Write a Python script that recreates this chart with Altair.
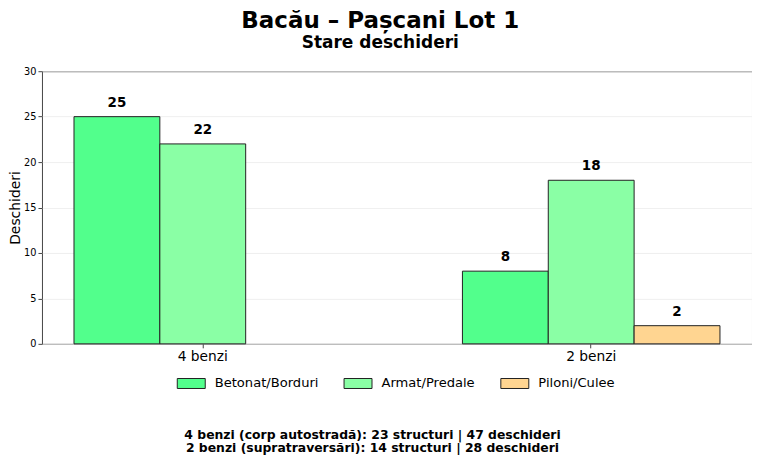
import altair as alt
import pandas as pd

title_text = "Bacău – Pașcani Lot 1"
subtitle_text = "Stare deschideri"
categories = ["4 benzi", "2 benzi"]
series = ["Betonat/Borduri", "Armat/Predale", "Piloni/Culee"]
colors = ["#52FF8C", "#8AFFA5", "#FFD591"]
values_4_benzi = [25, 22, None]
values_2_benzi = [8, 18, 2]
y_ticks = [0, 5, 10, 15, 20, 25, 30]
footer_lines = [
    "4 benzi (corp autostradă): 23 structuri | 47 deschideri",
    "2 benzi (supratraversări): 14 structuri | 28 deschideri",
]

rows = []
for cat, vals in zip(categories, [values_4_benzi, values_2_benzi]):
    for s, v in zip(series, vals):
        if v is not None:
            rows.append({"cat": cat, "serie": s, "val": v})
df = pd.DataFrame(rows)

FONT = "DejaVu Sans"

x_enc = alt.X("cat:N", sort=categories,
              scale=alt.Scale(paddingInner=0.337, paddingOuter=0.0825),
              axis=alt.Axis(title=None, labelAngle=0, labelFontSize=13.8,
                            labelColor="#000", tickColor="#444", tickSize=4,
                            domain=False, labelPadding=2))
xo_enc = alt.XOffset("serie:N", sort=series,
                     scale=alt.Scale(domain=series, paddingInner=0, paddingOuter=0))
y_enc = alt.Y("val:Q",
              scale=alt.Scale(domain=[0, 30], nice=False),
              axis=alt.Axis(title="Deschideri", values=y_ticks, titleFontSize=13.9,
                            titleFontWeight="normal", titleColor="#000",
                            labelFontSize=9.8, labelColor="#000", tickColor="#444",
                            tickSize=4, domain=False, gridColor="#ebebeb",
                            gridWidth=0.8, titlePadding=1, labelPadding=2))

bars = alt.Chart(df).mark_bar(stroke="#222", strokeWidth=1, opacity=1).encode(
    x=x_enc,
    xOffset=xo_enc,
    y=y_enc,
    color=alt.Color("serie:N", sort=series,
                    scale=alt.Scale(domain=series, range=colors),
                    legend=alt.Legend(
                        title=None, orient="none", direction="horizontal",
                        legendX=135, legendY=298,
                        symbolType="M-1,-0.357H1V0.357H-1Z", symbolSize=784,
                        symbolStrokeColor="#222", symbolStrokeWidth=1,
                        symbolOpacity=1,
                        labelFontSize=13.1, labelColor="#000", labelOffset=9,
                        columnPadding=23, labelFont=FONT)),
)

labels = alt.Chart(df).mark_text(dy=-7, baseline="bottom", fontSize=13.5,
                                 fontWeight="bold", color="#000").encode(
    x=alt.X("cat:N", sort=categories),
    xOffset=alt.XOffset("serie:N", sort=series),
    y=alt.Y("val:Q"),
    text=alt.Text("val:Q"),
)

footer_df = pd.DataFrame({"t": ["\n".join(footer_lines)]})
footer = alt.Chart(footer_df).mark_text(
    fontSize=12.4, fontWeight="bold", color="#000", lineBreak="\n",
    lineHeight=13, baseline="middle", align="center"
).encode(
    text="t:N",
    x=alt.value(331),
    y=alt.value(364),
)

chart = alt.layer(bars, labels, footer).properties(
    width=711, height=273,
    padding={"left": 0, "top": 2, "right": 0, "bottom": 0},
    title=alt.TitleParams(text=title_text, subtitle=subtitle_text,
                          anchor="middle", frame="bounds",
                          fontSize=23, subtitleFontSize=17,
                          fontWeight="bold", subtitleFontWeight="bold",
                          font=FONT, subtitleFont=FONT,
                          color="#000", subtitleColor="#000",
                          offset=15, subtitlePadding=2),
).configure(font=FONT).configure_view(
    stroke="#444", strokeWidth=1
)

chart.save("out.html", embed_options={"renderer": "svg", "actions": False})
